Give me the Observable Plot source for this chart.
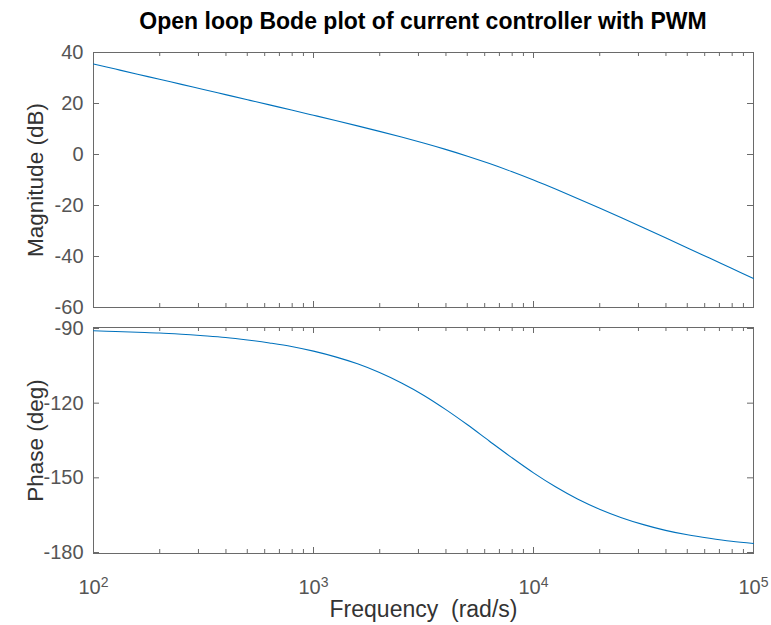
<!DOCTYPE html>
<html><head><meta charset="utf-8">
<script src="https://cdn.jsdelivr.net/npm/d3@7"></script>
<script src="https://cdn.jsdelivr.net/npm/@observablehq/plot@0.6"></script>
<style>
body{margin:0;background:#fff;font-family:"Liberation Sans",Arial,sans-serif;}
#wrap{position:relative;width:771px;height:625px;overflow:hidden;}
#title{position:absolute;left:93px;width:660px;top:8px;text-align:center;font-weight:bold;font-size:23px;color:#000;white-space:nowrap;}
#top{position:absolute;left:0;top:40px;}
#bot{position:absolute;left:0;top:315px;}
</style></head><body>
<div id="wrap"><div id="title">Open loop Bode plot of current controller with PWM</div><div id="top"></div><div id="bot"></div></div>
<script>
// frequency (rad/s)
const frequency = [100, 125.9, 158.5, 199.5, 251.2, 316.2, 398.1, 501.2, 631, 794.3,
  1000, 1258.9, 1584.9, 1995.3, 2511.9, 3162.3, 3981.1, 5011.9, 6309.6, 7943.3,
  10000, 12589, 15849, 19953, 25119, 31623, 39811, 50119, 63096, 79433, 100000];
// magnitude (dB)
const magnitudeDb = [35.5, 33.5, 31.5, 29.5, 27.49, 25.49, 23.48, 21.47, 19.46, 17.43,
  15.39, 13.33, 11.23, 9.08, 6.85, 4.51, 2.02, -0.66, -3.55, -6.68,
  -10.01, -13.54, -17.21, -20.99, -24.84, -28.75, -32.69, -36.65, -40.63, -44.61, -48.6];
// phase (deg)
const phaseDeg = [-90.9, -91.2, -91.5, -91.8, -92.3, -92.9, -93.6, -94.6, -95.8, -97.2,
  -99.1, -101.4, -104.2, -107.7, -111.9, -116.8, -122.5, -128.7, -135.3, -141.8,
  -148.0, -153.6, -158.5, -162.6, -166.0, -168.8, -171.1, -172.9, -174.3, -175.5, -176.4];

const xMajorTicks = [100, 1000, 10000, 100000];
const xMinorTicks = [200,300,400,500,600,700,800,900,
  2000,3000,4000,5000,6000,7000,8000,9000,
  20000,30000,40000,50000,60000,70000,80000,90000];
const magTicks = [-60, -40, -20, 0, 20, 40];
const phaseTicks = [-180, -150, -120, -90];
const magDomain = [-60, 40];
const phaseDomain = [-180.4, -89.6];

const W = 771, ML = 93, MR = 18, FW = W - ML - MR;
const axisColor = "#6a6a6a", textColor = "#555555", lineColor = "#0072BD";
const font = "'Liberation Sans', Arial, sans-serif";

function panel({values, yDomain, yTicks, yLabel, height, mt, mb, bottom}) {
  const FH = height - mt - mb;
  const data = frequency.map((f, i) => ({f, v: values[i]}));
  const marks = [
    Plot.frame({stroke: axisColor, strokeWidth: 1}),
    // x ticks, inward, bottom and top
    Plot.tickX(xMajorTicks, {x: d => d, stroke: axisColor, insetTop: FH - 6}),
    Plot.tickX(xMajorTicks, {x: d => d, stroke: axisColor, insetBottom: FH - 6}),
    Plot.tickX(xMinorTicks, {x: d => d, stroke: axisColor, insetTop: FH - 4}),
    Plot.tickX(xMinorTicks, {x: d => d, stroke: axisColor, insetBottom: FH - 4}),
    // y ticks, inward, left and right
    Plot.tickY(yTicks, {y: d => d, stroke: axisColor, insetRight: FW - 6}),
    Plot.tickY(yTicks, {y: d => d, stroke: axisColor, insetLeft: FW - 6}),
    Plot.axisY({ticks: yTicks, tickSize: 0, tickPadding: 10, fontSize: 20, fill: textColor, label: null,
      tickFormat: d => String(d)}),
    Plot.text([yLabel], {frameAnchor: "left", textAnchor: "middle", lineAnchor: "middle", dx: -58, rotate: -90, fontSize: 22.5, fill: "#333"}),
    Plot.line(data, {x: "f", y: "v", stroke: lineColor, strokeWidth: 1.1, curve: "catmull-rom"})
  ];
  if (bottom) {
    marks.push(Plot.axisX({ticks: xMajorTicks, tickSize: 0, tickPadding: 26, fontSize: 20, fill: textColor,
      tickFormat: d => "10^" + Math.round(Math.log10(d)), label: null}));
    marks.push(Plot.text(["Frequency \u00a0(rad/s)"], {frameAnchor: "bottom", textAnchor: "middle", lineAnchor: "middle", dy: 56, fontSize: 23, fill: "#333"}));
  } else {
    marks.push(Plot.axisX({ticks: [], label: null}));
  }
  const svg = Plot.plot({
    width: W, height, marginLeft: ML, marginRight: MR, marginTop: mt, marginBottom: mb,
    style: {fontFamily: font, color: textColor, background: "white", overflow: "visible"},
    x: {type: "log", domain: [100, 100000]},
    y: {domain: yDomain},
    marks
  });
  // superscript exponents
  d3.select(svg).selectAll("text").each(function() {
    const t = this.textContent;
    const m = /^10\^(\d+)$/.exec(t);
    if (m) {
      const sel = d3.select(this);
      sel.text("");
      sel.append("tspan").text("10");
      sel.append("tspan").attr("dy", "-0.5em").attr("font-size", "14px").text(m[1]);
    }
  });
  return svg;
}

document.getElementById("top").appendChild(panel({
  values: magnitudeDb, yDomain: magDomain, yTicks: magTicks, yLabel: "Magnitude (dB)",
  height: 275, mt: 12, mb: 8, bottom: false
}));
document.getElementById("bot").appendChild(panel({
  values: phaseDeg, yDomain: phaseDomain, yTicks: phaseTicks, yLabel: "Phase (deg)",
  height: 308, mt: 12, mb: 70, bottom: true
}));
</script>
</body></html>
